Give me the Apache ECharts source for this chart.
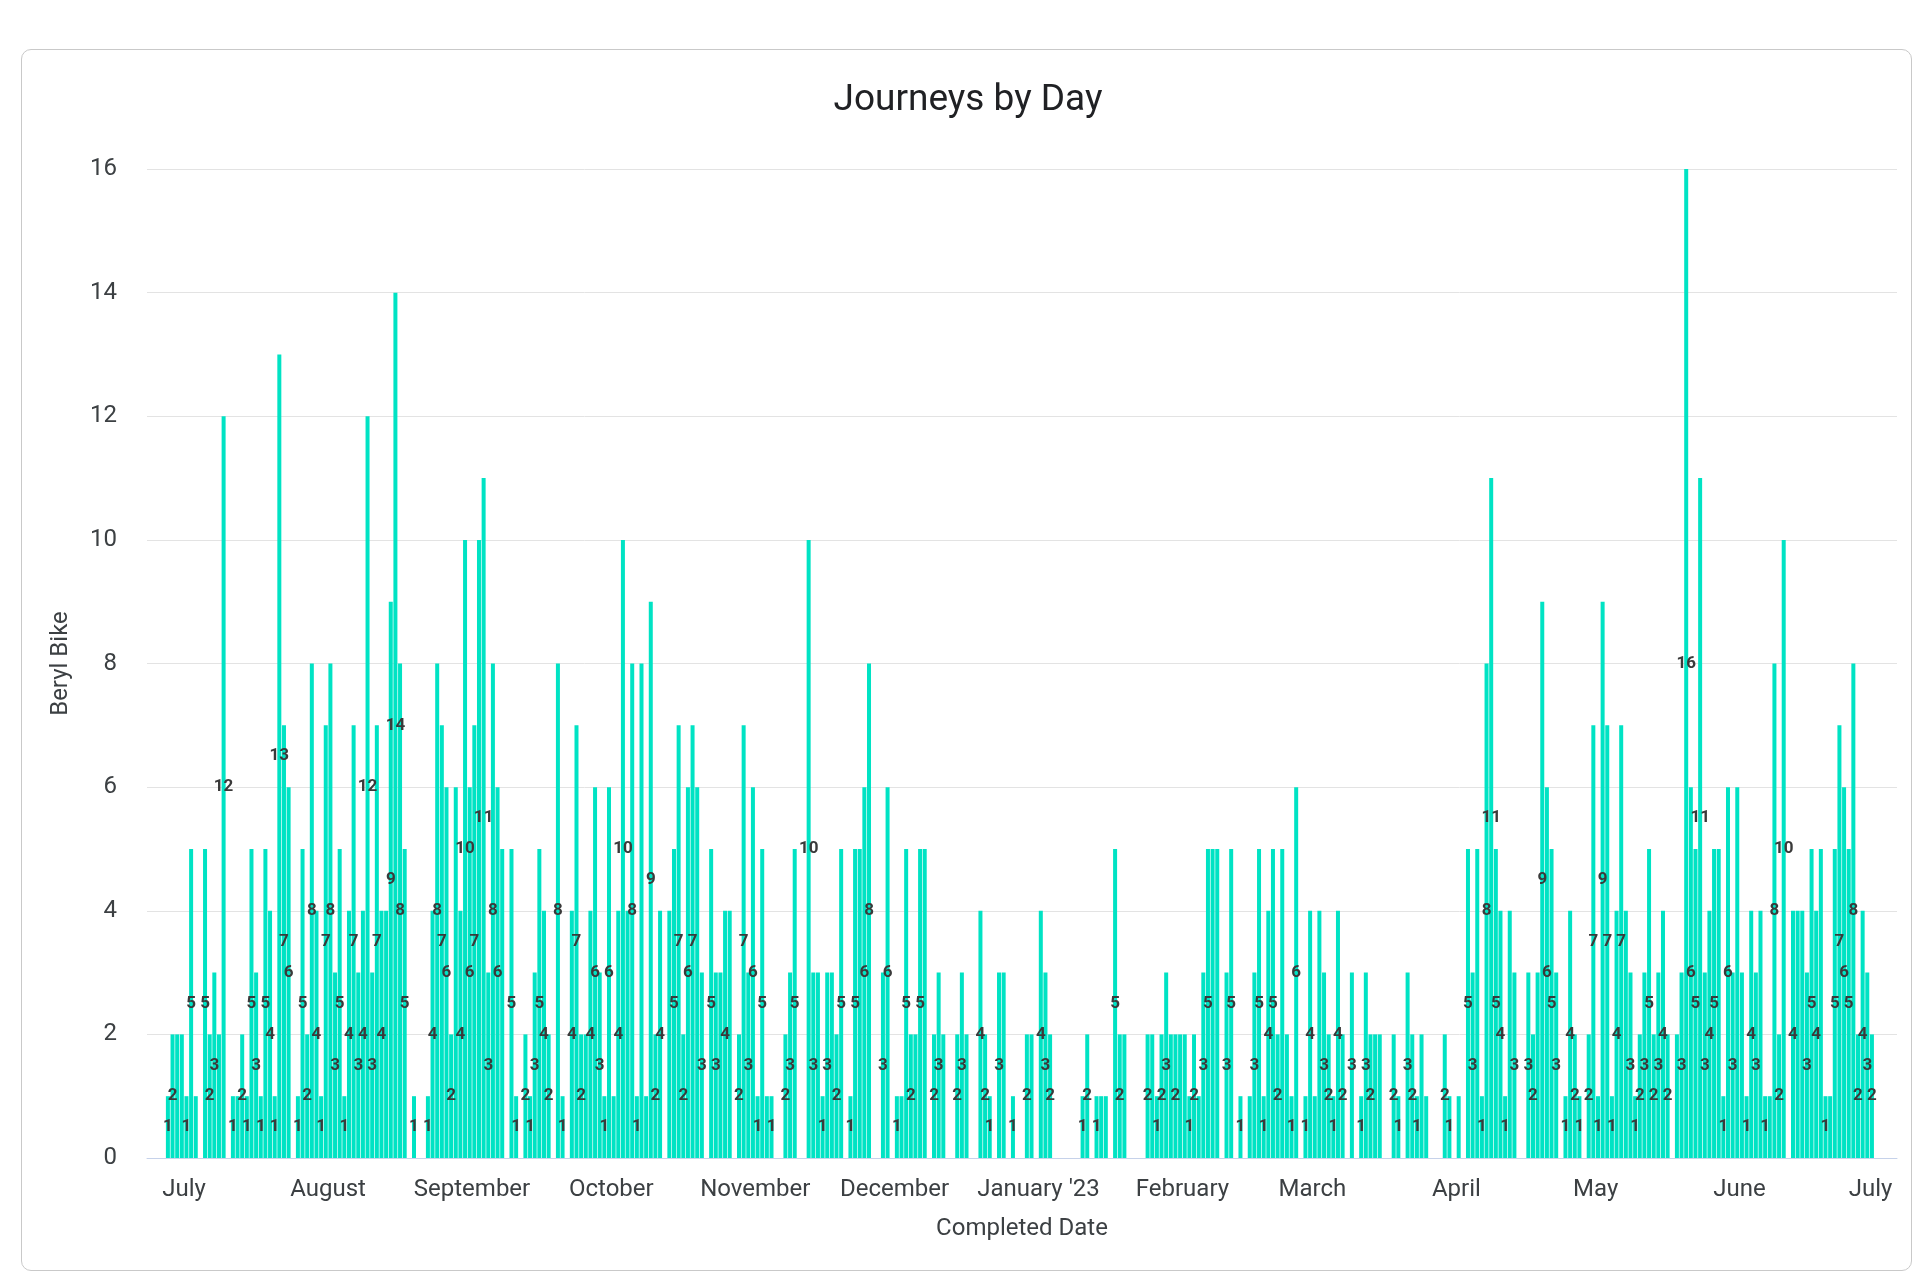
<!DOCTYPE html>
<html>
<head>
<meta charset="utf-8">
<title>Journeys by Day</title>
<script src="https://cdn.jsdelivr.net/npm/echarts@6/dist/echarts.min.js"></script>
<style>
  html, body { margin: 0; padding: 0; background: #fff; }
  .card {
    position: absolute; left: 21px; top: 49px; width: 1891px; height: 1222px;
    border: 1px solid #c9c9c9; border-radius: 10px; box-sizing: border-box;
  }
  #chart { position: absolute; left: 0; top: 0; width: 1916px; height: 1284px; }
</style>
</head>
<body>
<div class="card"></div>
<div id="chart"></div>
<script>
// journeys per day, 28 Jun 2022 .. 30 Jun 2023 (0 = no journeys)
const jun22 = [1, 2, 2];
const jul22 = [2, 1, 5, 1, 0, 5, 2, 3, 2, 12, 0, 1, 1, 2, 1, 5, 3, 1, 5, 4, 1, 13, 7, 6, 0, 1, 5, 2, 8, 4, 1];
const aug22 = [7, 8, 3, 5, 1, 4, 7, 3, 4, 12, 3, 7, 4, 4, 9, 14, 8, 5, 0, 1, 0, 0, 1, 4, 8, 7, 6, 2, 6, 4, 10];
const sep22 = [6, 7, 10, 11, 3, 8, 6, 5, 0, 5, 1, 0, 2, 1, 3, 5, 4, 2, 0, 8, 1, 0, 4, 7, 2, 2, 4, 6, 3, 1];
const oct22 = [6, 1, 4, 10, 4, 8, 1, 8, 1, 9, 2, 4, 0, 4, 5, 7, 2, 6, 7, 6, 3, 0, 5, 3, 3, 4, 4, 0, 2, 7, 3];
const nov22 = [6, 1, 5, 1, 1, 0, 0, 2, 3, 5, 0, 0, 10, 3, 3, 1, 3, 3, 2, 5, 0, 1, 5, 5, 6, 8, 0, 0, 3, 6];
const dec22 = [0, 1, 1, 5, 2, 2, 5, 5, 0, 2, 3, 2, 0, 0, 2, 3, 2, 0, 0, 4, 2, 1, 0, 3, 3, 0, 1, 0, 0, 2, 2];
const jan23 = [0, 4, 3, 2, 0, 0, 0, 0, 0, 0, 1, 2, 0, 1, 1, 1, 0, 5, 2, 2, 0, 0, 0, 0, 2, 2, 1, 2, 3, 2, 2];
const feb23 = [2, 2, 1, 2, 1, 3, 5, 5, 5, 0, 3, 5, 0, 1, 0, 1, 3, 5, 1, 4, 5, 2, 5, 2, 1, 6, 0, 1];
const mar23 = [4, 1, 4, 3, 2, 1, 4, 2, 0, 3, 0, 1, 3, 2, 2, 2, 0, 0, 2, 1, 0, 3, 2, 1, 2, 1, 0, 0, 0, 2, 1];
const apr23 = [0, 1, 0, 5, 3, 5, 1, 8, 11, 5, 4, 1, 4, 3, 0, 0, 3, 2, 3, 9, 6, 5, 3, 0, 1, 4, 2, 1, 0, 2];
const may23 = [7, 1, 9, 7, 1, 4, 7, 4, 3, 1, 2, 3, 5, 2, 3, 4, 2, 0, 2, 3, 16, 6, 5, 11, 3, 4, 5, 5, 1, 6, 3];
const jun23 = [6, 3, 1, 4, 3, 4, 1, 1, 8, 2, 10, 0, 4, 4, 4, 3, 5, 4, 5, 1, 1, 5, 7, 6, 5, 8, 2, 4, 3, 2];

const firstDay = '2022-06-28';
const monthStarts = ['2022-07-01', '2022-08-01', '2022-09-01', '2022-10-01', '2022-11-01', '2022-12-01',
  '2023-01-01', '2023-02-01', '2023-03-01', '2023-04-01', '2023-05-01', '2023-06-01', '2023-07-01'];
const monthLabels = ['July', 'August', 'September', 'October', 'November', 'December',
  "January '23", 'February', 'March', 'April', 'May', 'June', 'July'];

// day number counted from firstDay (UTC so DST does not matter)
function dayNo(s) {
  return Math.round((Date.parse(s + 'T00:00:00Z') - Date.parse(firstDay + 'T00:00:00Z')) / 86400000);
}

const counts = [].concat(jun22, jul22, aug22, sep22, oct22, nov22, dec22,
  jan23, feb23, mar23, apr23, may23, jun23);

let data = [];
counts.forEach((v, i) => {
  if (v > 0) data.push([i, v]);
});

let tickDays = monthStarts.map(s => dayNo(s) + 0.5);
tickDays[tickDays.length - 1] -= 1.8; // last label sits a little inside the edge
let labelOf = {};
tickDays.forEach((d, i) => { labelOf[d] = monthLabels[i]; });

let chart = echarts.init(document.getElementById('chart'));
let fontColor = '#3c4043';
let option = {
  animation: false,
  textStyle: { fontFamily: 'Roboto, sans-serif' },
  title: {
    text: 'Journeys by Day',
    left: 963,
    top: 77,
    textAlign: 'center',
    textStyle: { fontSize: 37, fontWeight: 'normal', color: '#202124', fontFamily: 'Roboto, sans-serif' }
  },
  grid: { left: 147, right: 19, top: 169, bottom: 126 },
  xAxis: {
    type: 'value',
    min: -4.5,
    max: 372.4,
    name: 'Completed Date',
    nameLocation: 'middle',
    nameGap: 59,
    nameTextStyle: { fontSize: 24, color: fontColor },
    axisLine: { lineStyle: { color: '#c6d2ea', width: 1 } },
    axisTick: { show: false },
    splitLine: { show: false },
    axisLabel: {
      customValues: tickDays,
      formatter: v => labelOf[v] || '',
      fontSize: 24,
      color: fontColor,
      margin: 20
    }
  },
  yAxis: {
    type: 'value',
    min: 0,
    max: 16,
    interval: 2,
    name: 'Beryl Bike',
    nameLocation: 'middle',
    nameGap: 74,
    nameTextStyle: { fontSize: 24, color: fontColor },
    axisLine: { show: false },
    axisTick: { show: false },
    axisLabel: { fontSize: 24, color: fontColor, margin: 30 },
    splitLine: { lineStyle: { color: '#e3e3e3', width: 1 } }
  },
  series: [
    {
      name: 'Beryl Bike',
      type: 'bar',
      barWidth: 4,
      itemStyle: { color: '#00e3c4' },
      label: {
        show: true,
        position: 'inside',
        color: '#3a3a3a',
        fontWeight: 'bold',
        fontSize: 17,
        textBorderWidth: 0
      },
      labelLayout: { hideOverlap: true },
      data
    }
  ]
};
chart.setOption(option);
</script>
</body>
</html>
